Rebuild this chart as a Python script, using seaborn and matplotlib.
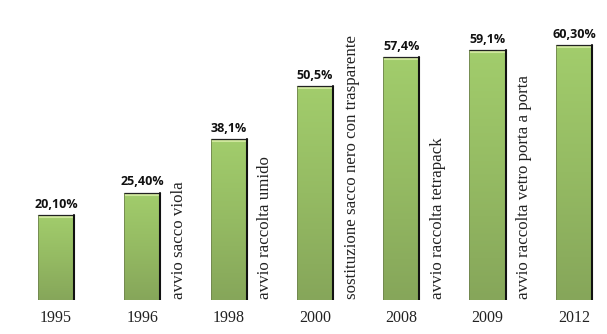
import numpy as np
import pandas as pd
import matplotlib
matplotlib.use("Agg")
import matplotlib.pyplot as plt
from matplotlib.colors import LinearSegmentedColormap
import seaborn as sns

# Percentuale di raccolta differenziata per anno
years = ["1995", "1996", "1998", "2000", "2008", "2009", "2012"]
values = [20.10, 25.40, 38.1, 50.5, 57.4, 59.1, 60.30]
decimals = [2, 2, 1, 1, 1, 1, 2]
notes = ["", "avvio sacco viola", "avvio raccolta umido",
         "sostituzione sacco nero con trasparente",
         "avvio raccolta tetrapack", "avvio raccolta vetro porta a porta", ""]

df = pd.DataFrame({"anno": years, "perc": values})

sns.set_theme(style="white")
fig = plt.figure(figsize=(6.07, 3.34), dpi=100)
ax = fig.add_axes([0, 34 / 334, 1, 300 / 334])

sns.barplot(data=df, x="anno", y="perc", ax=ax, width=0.42,
            color="#98c261", edgecolor="none", linewidth=0)

ax.set_xlim(-0.649, 6.383)
ax.set_ylim(0, 70.9)
ax.axis("off")

green = LinearSegmentedColormap.from_list(
    "green", ["#86a65a", "#95bb63", "#a2cd6c"])
grad = np.linspace(0, 1, 256).reshape(-1, 1)

for i, bar in enumerate(ax.patches):
    x0, w, h = bar.get_x(), bar.get_width(), bar.get_height()
    bar.set_facecolor("none")
    # vertical gradient fill
    im = ax.imshow(grad, cmap=green, aspect="auto", origin="lower",
                   extent=(x0, x0 + w, 0, h), zorder=2)
    im.set_clip_path(bar)
    # light highlight at the top of the bar
    ax.plot([x0 + 0.01, x0 + w - 0.01], [h - 0.5, h - 0.5],
            color="#cfe79c", lw=1.5, zorder=3, solid_capstyle="butt")
    # dark edge on top and right side
    ax.plot([x0, x0 + w], [h, h], color="#222222", lw=0.9, zorder=4)
    ax.plot([x0 + w, x0 + w], [h, 0], color="#111111", lw=1.5, zorder=4)
    ax.plot([x0, x0], [0, h], color="#70844f", lw=0.6, zorder=4)
    # value label
    label = f"{values[i]:.{decimals[i]}f}".replace(".", ",") + "%"
    ax.text(x0 + w / 2, h + 1.0, label, ha="center", va="bottom",
            fontsize=9, fontweight="bold", family="Open Sans",
            color="#111111", zorder=5)
    # year label below the baseline
    ax.text(x0 + w / 2, -2.3, years[i], ha="center", va="top",
            fontsize=11.5, family="Liberation Serif", color="#222222",
            clip_on=False)
    # event note, rotated, next to the bar
    if notes[i]:
        ax.text(i + 0.425, 0.2, notes[i], rotation=90, ha="center",
                va="bottom", fontsize=12.2, family="Liberation Serif",
                color="#222222", zorder=5)

fig.savefig("out.png", dpi=100)
